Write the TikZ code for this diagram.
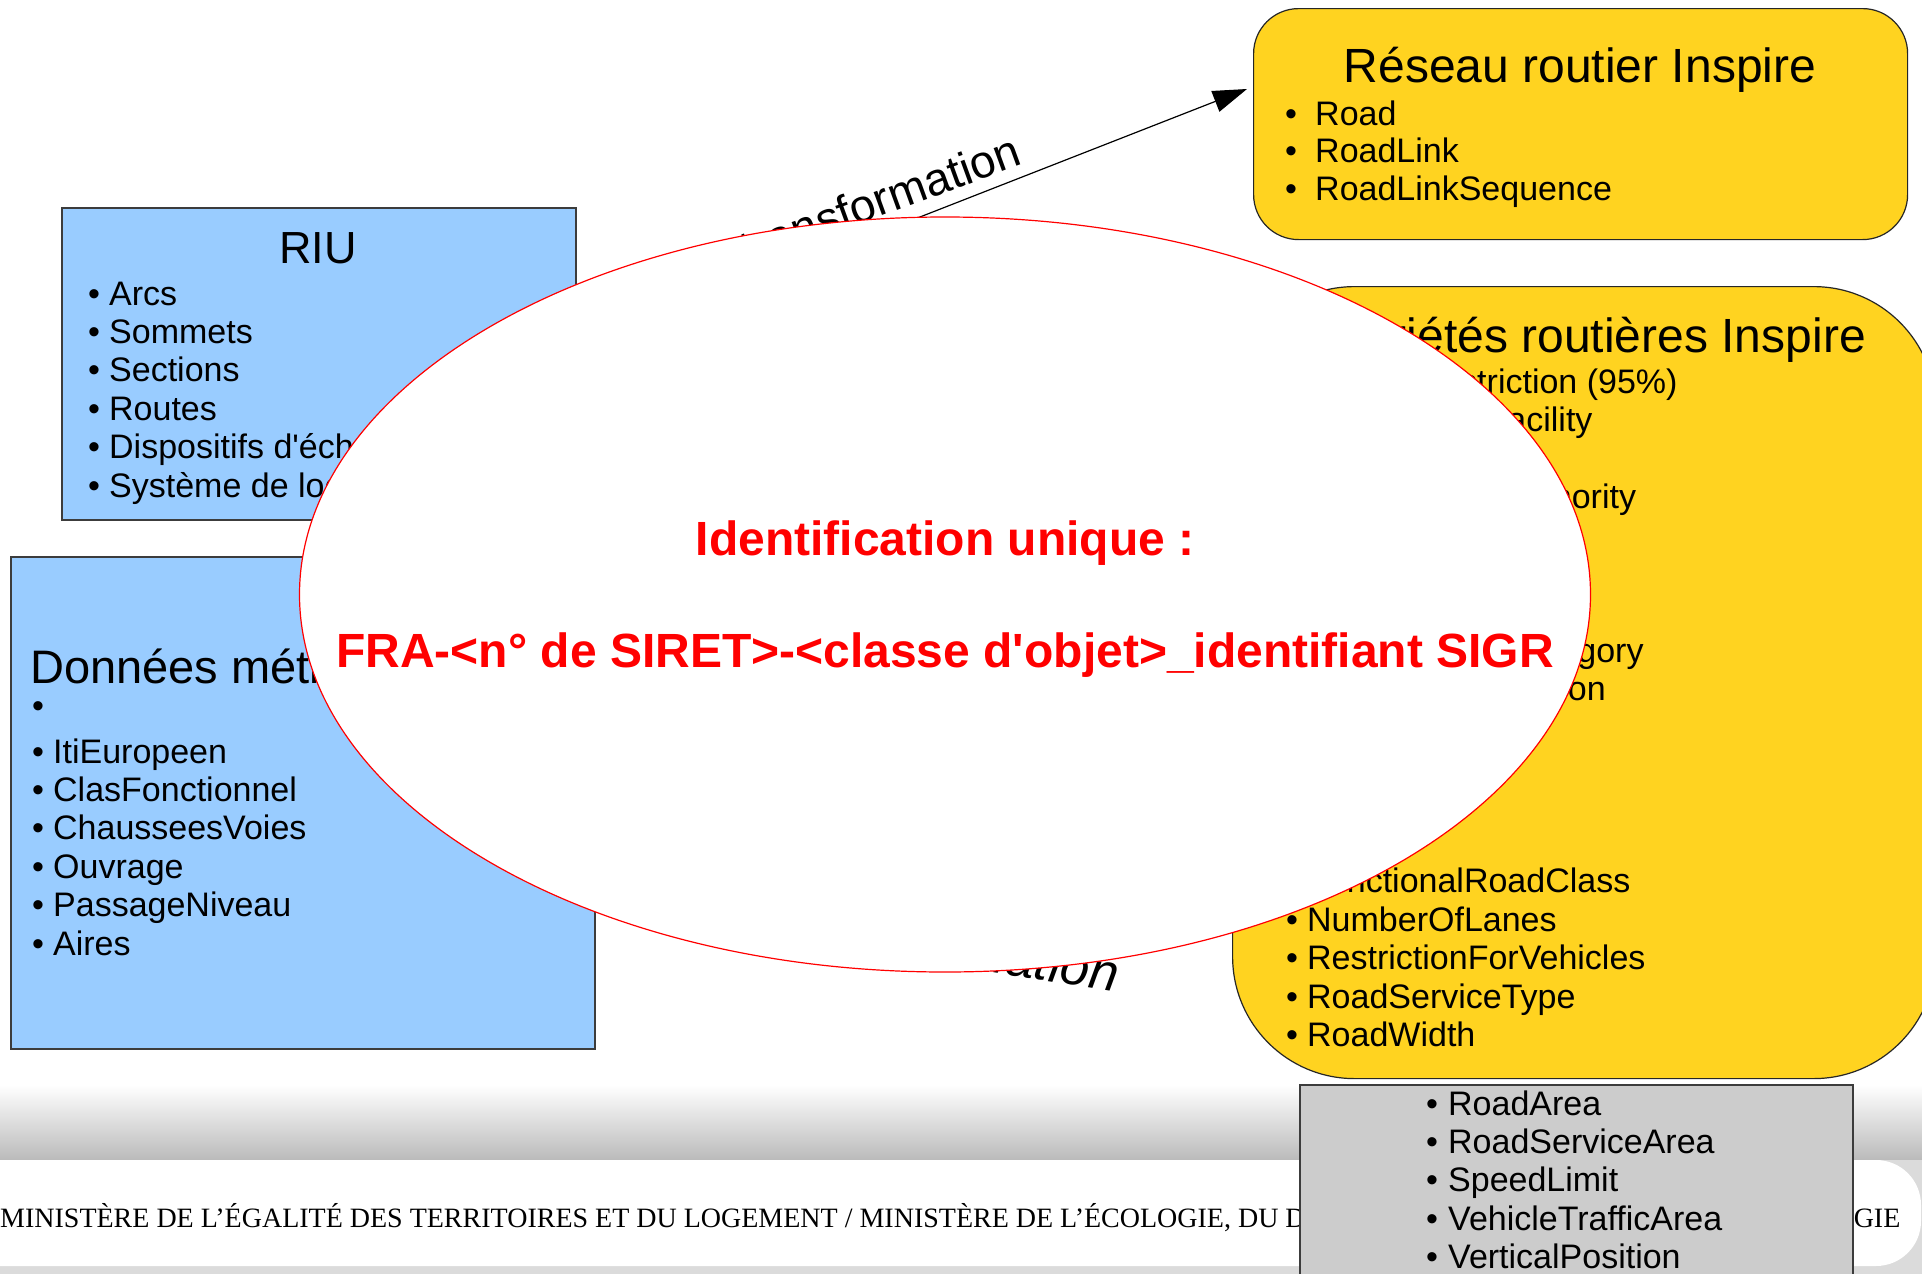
\documentclass[tikz,border=0pt]{standalone}
\usepackage{fontspec}
\newfontfamily\ls{Liberation Sans}
\newfontfamily\lserif{Liberation Serif}
\usetikzlibrary{arrows.meta,shapes.geometric}
\definecolor{boxblue}{HTML}{99CCFF}
\definecolor{boxyellow}{HTML}{FFD320}
\definecolor{boxgray}{HTML}{CCCCCC}
\definecolor{edgegray}{HTML}{3C3C3C}
\tikzset{
  bluebox/.style={draw=edgegray, line width=1.5pt, fill=boxblue, inner sep=0pt, anchor=north west},
  yellowbox/.style={draw=black!85, line width=1.2pt, fill=boxyellow, inner sep=0pt, anchor=north west},
  graybox/.style={draw=edgegray, line width=1.5pt, fill=boxgray, inner sep=0pt, anchor=north west},
  item/.style={anchor=base west, inner sep=0pt, font=\ls\fontsize{34}{40}\selectfont},
  boxtitle/.style={inner sep=0pt, font=\ls\fontsize{46}{52}\selectfont},
  redtext/.style={inner sep=0pt, text=red, font=\ls\fontsize{48}{54}\selectfont\bfseries, anchor=base},
  connector/.style={line width=1.2pt, -{Triangle[length=34pt,width=22pt]}},
  edgelabel/.style={inner sep=0pt, font=\ls\fontsize{46}{52}\selectfont},
}
\newcommand{\bul}[2][21pt]{\makebox[#1][l]{•}#2}
\begin{document}
\begin{tikzpicture}[x=1pt,y=-1pt]
\useasboundingbox (0,0) rectangle (1922,1274);
\fill[white] (0,0) rectangle (1922,1274);
% footer band
\shade[top color=white, bottom color=black!28] (0,1085) rectangle (1922,1163);
\fill[black!14] (0,1160) rectangle (1922,1274);
\fill[white, rounded corners=45pt] (-60,1160) rectangle (1921,1266);
\node[anchor=base west, inner sep=0pt, font=\lserif\fontsize{28}{32}\selectfont] (footer) at (0,1227)
  {MINISTÈRE DE L’ÉGALITÉ DES TERRITOIRES ET DU LOGEMENT / MINISTÈRE DE L’ÉCOLOGIE, DU DÉVELOPPEMENT DURABLE ET DE L’ÉNERGIE};

% boxes
\node[bluebox, minimum width=514pt, minimum height=312pt] (riu) at (61,207) {};
\node[bluebox, minimum width=584pt, minimum height=492pt] (dm) at (10,556) {};
\node[yellowbox, rounded corners=45pt, minimum width=654pt, minimum height=231pt] (reseau) at (1253,8) {};
\node[yellowbox, rounded corners=122pt, minimum width=703pt, minimum height=792pt] (prop) at (1232,286) {};

% RIU content
\node[boxtitle, anchor=base, font=\ls\fontsize{45}{52}\selectfont] (riu-t) at (318,263) {RIU};
\foreach \t [count=\i from 0] in {Arcs, Sommets, Sections, Routes, Dispositifs d'échange, Système de localisation}
  \node[item] (riu-\i) at (88,305+38.4*\i) {\bul{\t}};

% Donnees metier content
\node[boxtitle, anchor=base west, font=\ls\fontsize{47}{52}\selectfont] (dm-t) at (30,683) {Données métier};
\node[item] (dm-e) at (32,717) {•};
\foreach \t [count=\i from 0] in {ItiEuropeen, ClasFonctionnel, ChausseesVoies, Ouvrage, PassageNiveau, Aires}
  \node[item] (dm-\i) at (32,763+38.4*\i) {\bul{\t}};

% Reseau content
\node[boxtitle, anchor=base, font=\ls\fontsize{48}{54}\selectfont] (reseau-t) at (1580,82) {Réseau routier Inspire};
\foreach \t [count=\i from 0] in {Road, RoadLink, RoadLinkSequence}
  \node[item] (reseau-\i) at (1285,125+37.6*\i) {\bul[30pt]{\t}};

% Proprietes content
\node[boxtitle, anchor=base east, font=\ls\fontsize{48}{54}\selectfont] (prop-t) at (1866,352) {Propriétés routières Inspire};
\foreach \t/\k in {AccessRestriction (95\%)/0, ConditionOfFacility/1, MaintenanceAuthority/3, RoadSurfaceCategory/7, TrafficFlowDirection/8, FunctionalRoadClass/13, NumberOfLanes/14, RestrictionForVehicles/15, RoadServiceType/16, RoadWidth/17}
  \node[item] (prop-\k) at (1286,393+38.45*\k) {\bul{\t}};

% connectors
\coordinate (c1a) at (575,352);
\coordinate (c1b) at (1247,89);
\draw[connector] (c1a) -- (c1b);
\coordinate (c2a) at (594,800);
\coordinate (c2b) at (1232,905);
\draw[connector] (c2a) -- (c2b);
\node[edgelabel, anchor=base east, rotate=20] (lab1) at (1024,164) {transformation};
\node[edgelabel, anchor=base east, rotate=-9, font=\ls\fontsize{52}{58}\selectfont\itshape] (lab2) at (1116,992) {transformation};

% ellipse
\node[ellipse, draw=red, line width=1.2pt, fill=white, minimum width=1291pt, minimum height=755pt, inner sep=0pt] (ident) at (945,594.5) {};
\node[redtext] (id1) at (945,555) {Identification unique :};
\node[redtext] (id2) at (945,667) {FRA-<n° de SIRET>-<classe d'objet>\_identifiant SIGR};

% gray box
\node[graybox, minimum width=553pt, minimum height=230pt] (gray) at (1299,1084) {};
\foreach \t [count=\i from 0] in {RoadArea, RoadServiceArea, SpeedLimit, VehicleTrafficArea, VerticalPosition}
  \node[item] (gray-\i) at (1426,1115+38.4*\i) {\bul[22pt]{\t}};
\end{tikzpicture}
\end{document}
